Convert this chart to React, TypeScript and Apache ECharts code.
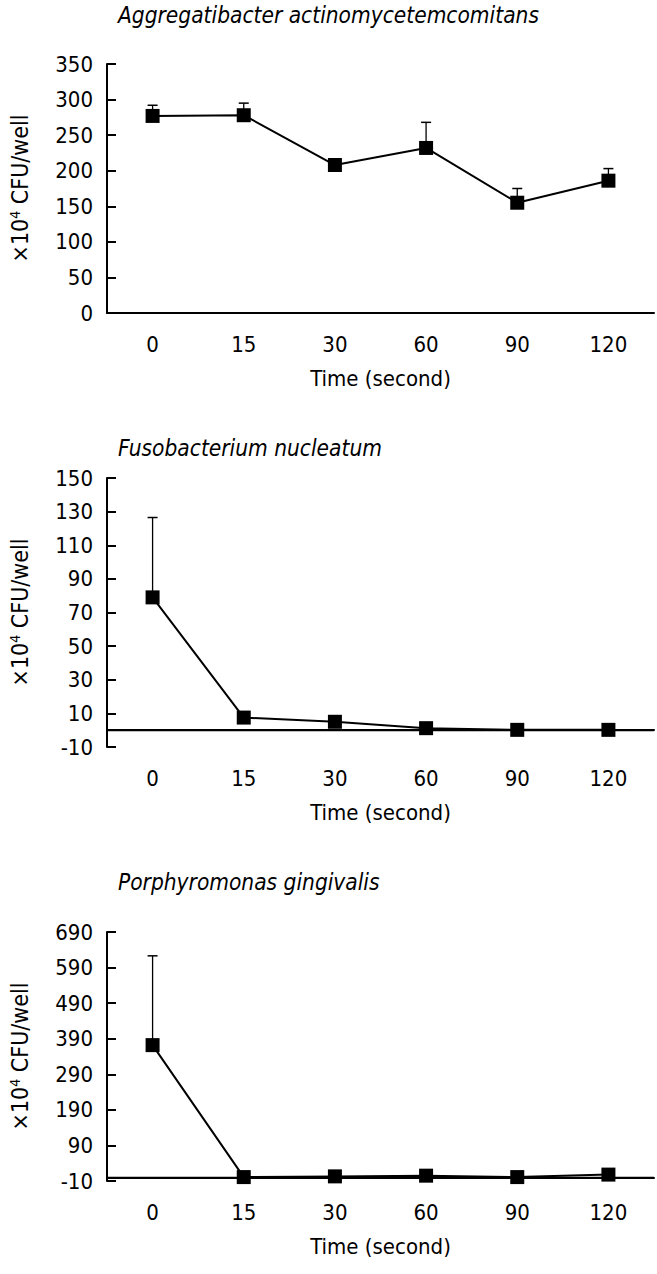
import React, { useEffect, useRef } from "react";
import * as echarts from "echarts";

const categories = ["0", "15", "30", "60", "90", "120"];
const titles = [
  "Aggregatibacter actinomycetemcomitans",
  "Fusobacterium nucleatum",
  "Porphyromonas gingivalis",
];

// Aggregatibacter actinomycetemcomitans
const aaMean = [277, 278, 208, 232, 155, 186];
const aaUpper = [292, 295, 208, 268, 175, 203];
// Fusobacterium nucleatum
const fnMean = [79, 7.5, 5, 1.2, 0.2, 0.2];
const fnUpper = [126.5, 7.5, 5, 1.2, 0.2, 0.2];
// Porphyromonas gingivalis
const pgMean = [372, 1, 3, 5, 1, 8];
const pgUpper = [623, 1, 3, 5, 1, 8];

const yTicksAA = [0, 50, 100, 150, 200, 250, 300, 350];
const yTicksFN = [-10, 10, 30, 50, 70, 90, 110, 130, 150];
const yTicksPG = [-10, 90, 190, 290, 390, 490, 590, 690];

const FONT = '"DejaVu Sans Condensed", "Liberation Sans Narrow", "DejaVu Sans", sans-serif';

export default function App() {
  const ref = useRef<HTMLDivElement>(null);
  useEffect(() => {
    document.body.style.margin = "0";
    const chart = echarts.init(ref.current!, null, { renderer: "svg" });
    const means = [aaMean, fnMean, pgMean];
    const uppers = [aaUpper, fnUpper, pgUpper];
    const ticks = [yTicksAA, yTicksFN, yTicksPG];
    const grids = [
      { left: 106, top: 64, width: 548, height: 249 },
      { left: 106, top: 478, width: 548, height: 269 },
      { left: 106, top: 932, width: 548, height: 249 },
    ];
    const titleTops = [3, 436, 870];
    const series: any[] = [];
    for (let i = 0; i < 3; i++) {
      series.push({
        type: "custom",
        xAxisIndex: i,
        yAxisIndex: i,
        z: 2,
        data: categories.map((_, k) => [k, means[i][k], uppers[i][k]]),
        encode: { x: 0, y: [1, 2] },
        renderItem: (params: any, api: any) => {
          const x = api.value(0);
          const p0 = api.coord([x, api.value(1)]);
          const p1 = api.coord([x, api.value(2)]);
          if (p1[1] >= p0[1] - 0.5) return null;
          return {
            type: "group",
            children: [
              { type: "line", shape: { x1: p0[0], y1: p0[1], x2: p1[0], y2: p1[1] }, style: { stroke: "#000", lineWidth: 1.3 } },
              { type: "line", shape: { x1: p1[0] - 5, y1: p1[1], x2: p1[0] + 5, y2: p1[1] }, style: { stroke: "#000", lineWidth: 1.5 } },
            ],
          };
        },
      });
      const line: any = {
        type: "line",
        xAxisIndex: i,
        yAxisIndex: i,
        z: 3,
        data: means[i],
        symbol: "rect",
        symbolSize: 14,
        itemStyle: { color: "#000" },
        lineStyle: { color: "#000", width: 2 },
      };
      if (i > 0) {
        line.markLine = {
          silent: true,
          symbol: ["none", "none"],
          label: { show: false },
          lineStyle: { color: "#000", width: 1.3, type: "solid" },
          data: [{ yAxis: 0 }],
        };
      }
      series.push(line);
    }
    const option: any = {
      animation: false,
      backgroundColor: "#fff",
      title: titles.map((t, i) => ({
        text: t,
        left: 118,
        top: titleTops[i],
        padding: 0,
        textStyle: { fontStyle: "italic", fontWeight: "normal", fontSize: 22.5, fontFamily: FONT, color: "#000" },
      })),
      grid: grids,
      xAxis: grids.map((_, i) => ({
        type: "category",
        gridIndex: i,
        data: categories,
        boundaryGap: true,
        axisLine: { lineStyle: { color: "#000", width: 2 } },
        axisTick: { show: false },
        axisLabel: { color: "#000", fontSize: 22, fontFamily: FONT, margin: 20 },
        name: "Time (second)",
        nameLocation: "middle",
        nameGap: 54,
        nameTextStyle: { color: "#000", fontSize: 22, fontFamily: FONT },
      })),
      yAxis: grids.map((_, i) => ({
        type: "value",
        gridIndex: i,
        min: ticks[i][0],
        max: ticks[i][ticks[i].length - 1],
        splitLine: { show: false },
        axisLine: { show: true, lineStyle: { color: "#000", width: 2 } },
        axisTick: { show: true, inside: true, length: 9, lineStyle: { color: "#000", width: 2 }, customValues: ticks[i] },
        axisLabel: { color: "#000", fontSize: 22, fontFamily: FONT, margin: 14, customValues: ticks[i] },
        name: "×10{sup|4} CFU/well",
        nameLocation: "middle",
        nameRotate: 90,
        nameGap: 76,
        nameTextStyle: {
          color: "#000",
          fontSize: 23,
          fontFamily: FONT,
          rich: {
            sup: { fontSize: 14, fontFamily: FONT, color: "#000", verticalAlign: "top", lineHeight: 14 },
          },
        },
      })),
      series,
    };
    chart.setOption(option);
    return () => chart.dispose();
  }, []);
  return <div ref={ref} style={{ width: 657, height: 1274 }} />;
}
